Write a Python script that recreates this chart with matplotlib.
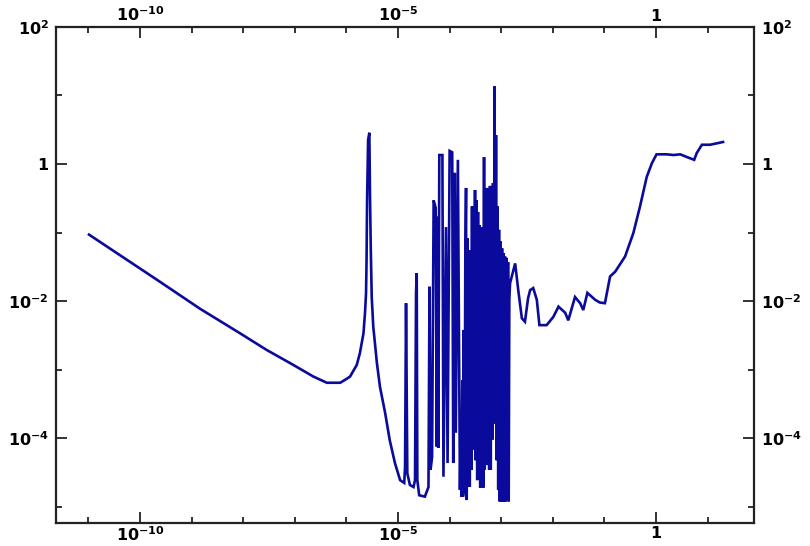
import matplotlib
matplotlib.use("Agg")
import matplotlib.pyplot as plt
import numpy as np

# curve, stored as log10 values
log_x = [
    -10.99, -10.39, -9.61, -8.84, -8.06, -7.55, -7.03, -6.64, -6.38, -6.12,
    -5.99, -5.93, -5.80, -5.74, -5.67, -5.64, -5.62, -5.61, -5.60, -5.58,
    -5.556, -5.543, -5.529, -5.51, -5.48, -5.41, -5.35, -5.25, -5.16, -5.06,
    -4.96, -4.88, -4.864, -4.845, -4.82, -4.77, -4.70, -4.671, -4.651, -4.638,
    -4.626, -4.59, -4.48, -4.41,
    -4.39, -4.37, -4.34, -4.31, -4.27, -4.25, -4.23, -4.22, -4.20, -4.14,
    -4.12, -4.07, -4.04, -4.00, -3.95, -3.93, -3.90, -3.88, -3.84,
    -3.800, -3.783, -3.769, -3.754, -3.740, -3.725, -3.711, -3.696, -3.682, -3.669,
    -3.653, -3.640, -3.624, -3.610, -3.595, -3.581, -3.566, -3.552, -3.537, -3.523,
    -3.508, -3.494, -3.479, -3.465, -3.450, -3.436, -3.421, -3.407, -3.391, -3.378,
    -3.362, -3.349, -3.333, -3.320, -3.304, -3.291, -3.275, -3.262, -3.246, -3.233,
    -3.217, -3.203, -3.188, -3.174, -3.159, -3.145, -3.130, -3.116, -3.101, -3.087,
    -3.072, -3.058, -3.043, -3.029, -3.014, -3.000, -2.984, -2.971, -2.955, -2.942,
    -2.926, -2.913, -2.897, -2.884, -2.868, -2.855, -2.843, -2.829,
    -2.73, -2.67, -2.60, -2.54, -2.48, -2.44, -2.38, -2.31,
    -2.26, -2.12, -1.99, -1.89, -1.76, -1.70, -1.57, -1.47, -1.41, -1.33,
    -1.18, -1.09, -0.99, -0.89, -0.79, -0.60, -0.44, -0.31, -0.18, -0.08,
    0.01, 0.21, 0.34, 0.47, 0.60, 0.74, 0.79, 0.89, 1.05, 1.18, 1.30,
]
log_y = [
    -1.03, -1.33, -1.72, -2.11, -2.47, -2.71, -2.93, -3.10, -3.19, -3.19,
    -3.13, -3.10, -2.93, -2.76, -2.47, -2.17, -1.88, -1.40, -0.53, 0.35,
    0.455, -0.48, -1.21, -1.94, -2.37, -2.90, -3.25, -3.63, -4.03, -4.36,
    -4.61, -4.65, -4.42, -2.03, -4.51, -4.68, -4.71, -4.61, -1.88, -1.59,
    -4.61, -4.83, -4.85, -4.71,
    -1.79, -4.46, -4.27, -0.53, -0.64, -4.12, -0.77, -4.14, 0.13, 0.13,
    -4.56, -0.92, -4.36, 0.19, 0.17, -4.36, -0.13, -3.92, 0.06,
    -4.75, -3.73, -4.85, -3.15, -4.85, -2.42, -4.80, -1.40, -0.35, -4.90,
    -1.08, -4.46, -1.26, -4.71, -1.69, -4.46, -0.62, -4.17, -0.74, -4.07,
    -0.38, -4.32, -0.53, -4.61, -0.70, -4.46, -0.89, -4.72, -0.92, -4.54,
    -1.11, -4.72, 0.10, -4.46, -0.35, -4.27, -0.53, -4.39, -0.35, -4.46,
    -0.32, -4.46, -0.86, -4.02, -0.28, -3.78, 1.13, -3.78, 0.42, -4.32,
    -0.62, -4.75, -0.96, -4.92, -1.13, -4.92, -1.23, -4.92, -1.30, -4.92,
    -1.35, -4.92, -1.37, -4.90, -1.43, -4.92, -1.98, -1.74,
    -1.45, -1.84, -2.25, -2.30, -1.96, -1.84, -1.81, -1.98,
    -2.35, -2.35, -2.23, -2.08, -2.17, -2.28, -1.94, -2.03, -2.13, -1.88,
    -1.98, -2.02, -2.03, -1.64, -1.57, -1.35, -1.01, -0.62, -0.19, 0.01,
    0.14, 0.14, 0.13, 0.14, 0.10, 0.06, 0.16, 0.28, 0.28, 0.30, 0.32,
]

x_ticks = [1e-10, 1e-5, 1]
x_tick_labels = [r"$\mathbf{10^{-10}}$", r"$\mathbf{10^{-5}}$", r"$\mathbf{1}$"]
y_ticks = [1e2, 1, 1e-2, 1e-4]
y_tick_labels = [r"$\mathbf{10^{2}}$", r"$\mathbf{1}$", r"$\mathbf{10^{-2}}$", r"$\mathbf{10^{-4}}$"]

x = np.power(10.0, log_x)
y = np.power(10.0, log_y)

fig = plt.figure(figsize=(8.1, 5.46), dpi=100)
ax = fig.add_axes([0.0691, 0.0427, 0.8618, 0.9083])
ax.plot(x, y, color="#0a0a9c", linewidth=1.9, solid_joinstyle="miter")

ax.set_xscale("log")
ax.set_yscale("log")
ax.set_xlim(10 ** -11.63, 10 ** 1.9)
ax.set_ylim(10 ** -5.23, 1e2)

ax.set_xticks(x_ticks)
ax.set_xticklabels(x_tick_labels)
ax.set_xticks([10.0 ** k for k in range(-11, 2)], minor=True)
ax.set_yticks(y_ticks)
ax.set_yticklabels(y_tick_labels)
ax.set_yticks([10.0 ** k for k in (1, -1, -3, -5)], minor=True)
ax.xaxis.set_minor_formatter(plt.NullFormatter())
ax.yaxis.set_minor_formatter(plt.NullFormatter())

ax.tick_params(which="both", direction="in", top=True, right=True,
               labeltop=True, labelright=True, width=1.3, color="#222222",
               labelsize=11.5)
ax.tick_params(which="major", length=8)
ax.tick_params(which="minor", length=4)
ax.tick_params(axis="x", which="major", pad=2)
ax.tick_params(axis="y", which="major", pad=5)

for s in ax.spines.values():
    s.set_linewidth(1.6)
    s.set_color("#222222")

plt.savefig("out.png", dpi=100)
plt.close()
